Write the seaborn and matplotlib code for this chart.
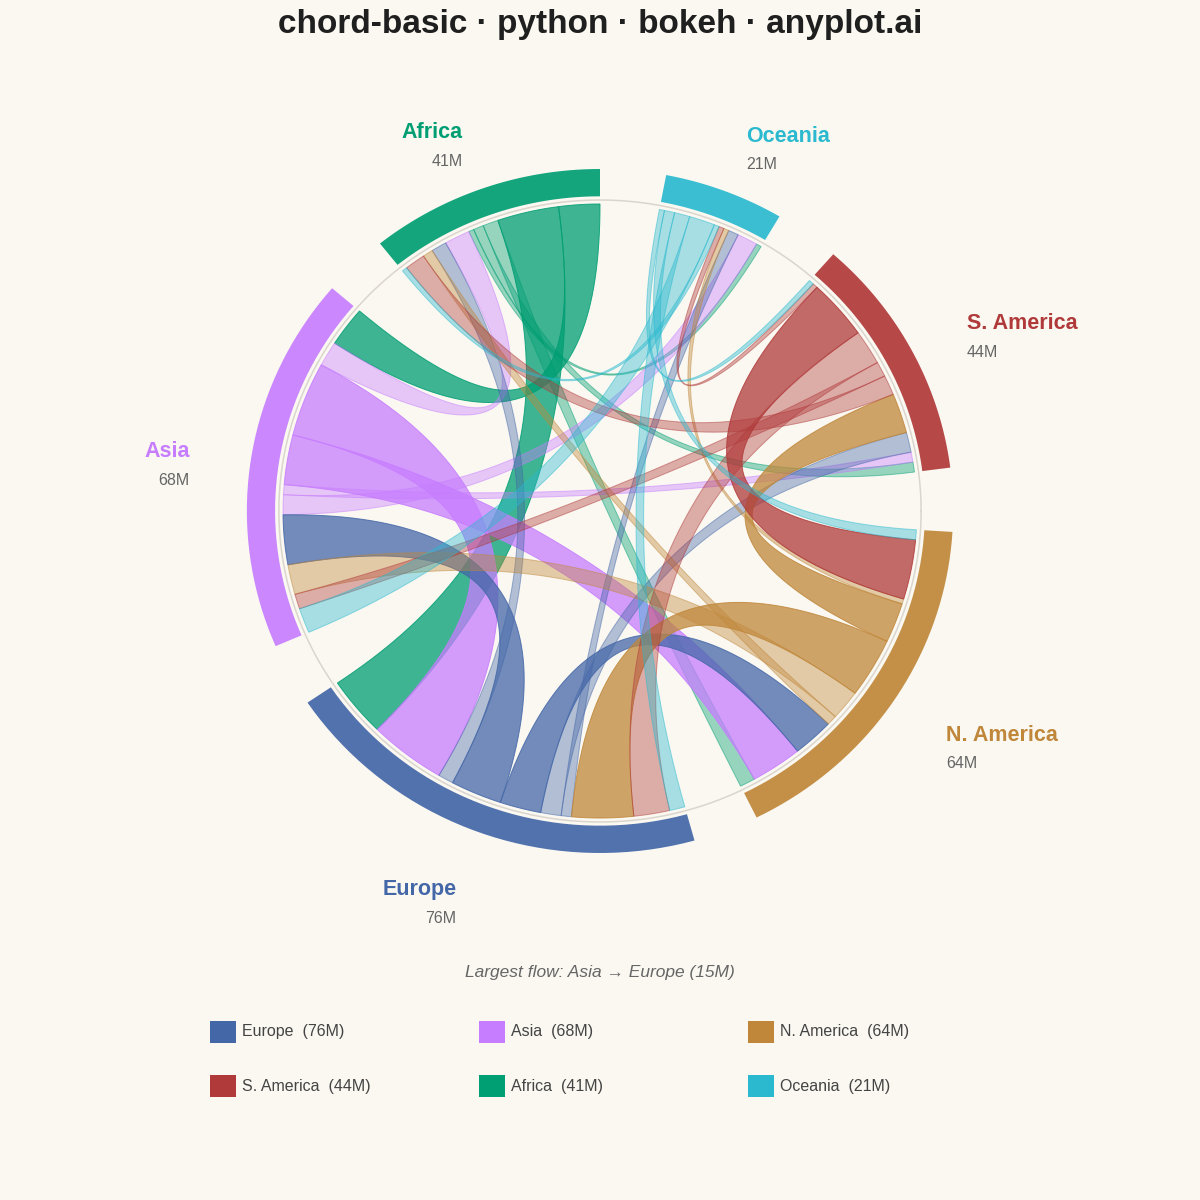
import numpy as np
import matplotlib
matplotlib.use("Agg")
import matplotlib.pyplot as plt
from matplotlib.patches import Polygon, Rectangle
import seaborn as sns

# regions in the order they sit around the circle (counter-clockwise from the top)
regions = ["Africa", "Asia", "Europe", "N. America", "S. America", "Oceania"]
region_hex = ["#009E73", "#C77DFF", "#4467A8", "#C0873A", "#B03A3A", "#2AB9CF"]

# migration flows in millions: row = origin, column = destination (same order as regions)
flow_africa = [0, 8, 12, 3, 2, 1]
flow_asia = [5, 0, 15, 10, 2, 4]
flow_europe = [3, 10, 0, 8, 4, 2]
flow_namerica = [2, 6, 12, 0, 8, 1]
flow_samerica = [4, 3, 7, 12, 0, 1]
flow_oceania = [1, 5, 3, 2, 1, 0]

BG = "#FAF8F1"

sns.set_theme(style="white", rc={"figure.facecolor": BG, "axes.facecolor": BG})
plt.rcParams["font.family"] = ["Liberation Sans", "DejaVu Sans"]
palette = sns.color_palette(region_hex)

flows = np.array([flow_africa, flow_asia, flow_europe,
                  flow_namerica, flow_samerica, flow_oceania], dtype=float)
n = len(regions)
totals = flows.sum(axis=1) + flows.sum(axis=0)

# angular layout
gap = 0.03 * 2 * np.pi
scale = (2 * np.pi - n * gap) / totals.sum()
starts = np.zeros(n)
ends = np.zeros(n)
a = np.pi / 2
for i in range(n):
    starts[i] = a
    ends[i] = a + totals[i] * scale
    a = ends[i] + gap

R = 1.0          # chord radius
R_IN, R_OUT = 1.025, 1.114


def arc(a0, a1, r, k=40):
    t = np.linspace(a0, a1, k)
    return np.column_stack([r * np.cos(t), r * np.sin(t)])


def bezier(p0, p2, k=60):
    t = np.linspace(0, 1, k)[:, None]
    return (1 - t) ** 2 * p0 + t ** 2 * p2   # control point at centre (0, 0)


def pt(ang):
    return np.array([R * np.cos(ang), R * np.sin(ang)])


# allocate chord ends
cursor = starts.copy()
chords = []
for i in range(n):
    for j in range(n):
        f = flows[i, j]
        if i == j or f <= 0:
            continue
        w = f * scale
        src = (cursor[i], cursor[i] + w)
        cursor[i] += w
        tgt = (cursor[j], cursor[j] + w)
        cursor[j] += w
        chords.append((i, j, f, src, tgt))

nonzero = flows[flows > 0]
strong = np.percentile(nonzero, 75)

fig = plt.figure(figsize=(12, 12), dpi=100)
ax = fig.add_axes([0, 0, 1, 1])
ax.set_xlim(-600 / 317, 600 / 317)
ax.set_ylim((511 - 1200) / 307, 511 / 307)
ax.axis("off")

# thin guide circle
ring = arc(0, 2 * np.pi, 1.013, 400)
ax.plot(ring[:, 0], ring[:, 1], color="#DAD6CE", lw=1.1, zorder=1)

for i, j, f, (s0, s1), (t0, t1) in chords:
    pts = np.vstack([
        arc(s0, s1, R),
        bezier(pt(s1), pt(t0)),
        arc(t0, t1, R),
        bezier(pt(t1), pt(s0)),
    ])
    alpha = 0.75 if f >= strong else 0.4
    col = palette[i]
    ax.add_patch(Polygon(pts, closed=True, facecolor=(*col, alpha),
                         edgecolor=(*col, min(alpha + 0.1, 1)), lw=0.7, zorder=2))

# outer region arcs and labels
for i in range(n):
    outer = arc(starts[i], ends[i], R_OUT)
    inner = arc(ends[i], starts[i], R_IN)
    ax.add_patch(Polygon(np.vstack([outer, inner]), closed=True,
                         facecolor=(*palette[i], 0.92), edgecolor="none", zorder=3))
    mid = (starts[i] + ends[i]) / 2
    lx, ly = 1.31 * np.cos(mid), 1.31 * np.sin(mid)
    ha = "right" if np.cos(mid) < 0 else "left"
    ax.text(lx, ly - 0.005, regions[i], ha=ha, va="center", fontsize=15.5,
            fontweight="bold", color=palette[i], zorder=4)
    ax.text(lx, ly - 0.0975, f"{int(totals[i])}M", ha=ha, va="center",
            fontsize=11.5, color="#666666", zorder=4)

fig.text(0.5, 1 - 24 / 1200, "chord-basic · python · bokeh · anyplot.ai",
         ha="center", va="center", fontsize=24, fontweight="bold", color="#1F1F1F")

bi, bj = np.unravel_index(np.argmax(flows), flows.shape)
fig.text(0.5, 1 - 972 / 1200,
         f"Largest flow: {regions[bi]} → {regions[bj]} ({int(flows[bi, bj])}M)",
         ha="center", va="center", fontsize=12.5, style="italic", color="#666666")

# legend, sorted by total
order = np.argsort(-totals, kind="stable")
col_x = [210, 479, 748]
row_y = [1031.5, 1086]
for k, idx in enumerate(order):
    x0 = col_x[k % 3]
    y0 = row_y[k // 3]
    fig.patches.append(Rectangle((x0 / 1200, 1 - (y0 + 11) / 1200), 26 / 1200, 22 / 1200,
                                 transform=fig.transFigure, facecolor=palette[idx],
                                 edgecolor="none"))
    fig.text((x0 + 32) / 1200, 1 - y0 / 1200, f"{regions[idx]}  ({int(totals[idx])}M)",
             ha="left", va="center", fontsize=11.5, color="#444444")

fig.savefig("out.png", dpi=100, facecolor=BG)
plt.close(fig)
